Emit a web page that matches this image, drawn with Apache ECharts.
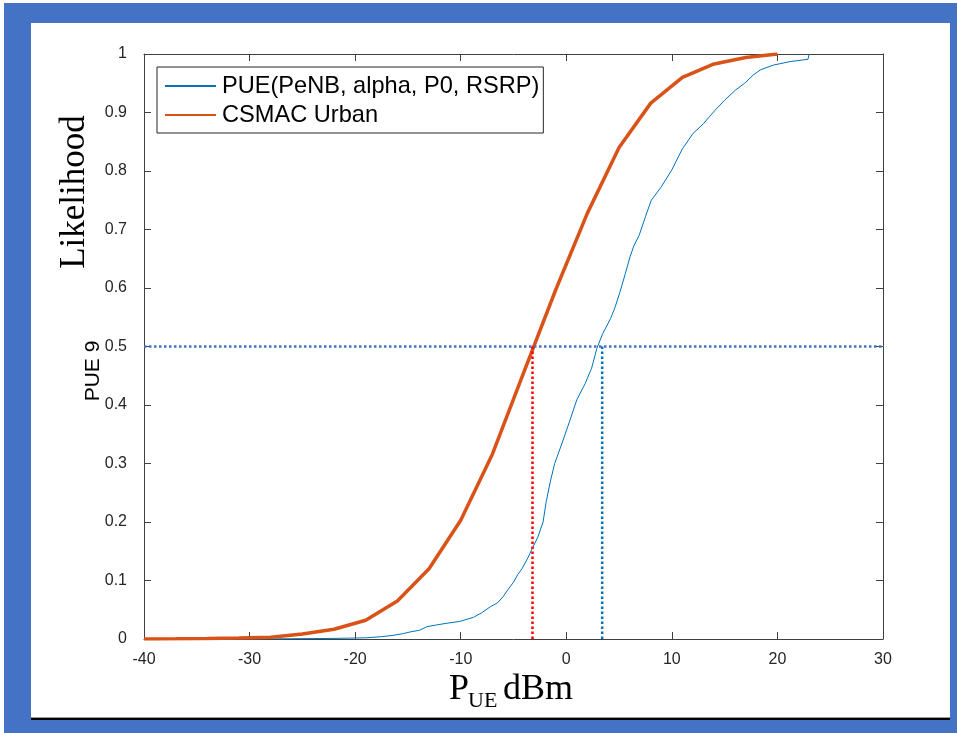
<!DOCTYPE html>
<html>
<head>
<meta charset="utf-8">
<script src="https://cdn.jsdelivr.net/npm/echarts@6/dist/echarts.min.js"></script>
<style>
  html, body { margin: 0; padding: 0; background: #ffffff; }
  #frame { position: absolute; left: 4px; top: 3px; width: 953px; height: 730px; background: #4472C4; }
  #paper { position: absolute; left: 31px; top: 23px; width: 919px; height: 694px; background: #ffffff; }
  #rule1 { position: absolute; left: 31px; top: 717px; width: 919px; height: 1px; background: #9a9a9a; }
  #rule2 { position: absolute; left: 31px; top: 718px; width: 919px; height: 2px; background: #000000; }
  #chart { position: absolute; left: 0; top: 0; width: 957px; height: 733px; }
</style>
</head>
<body>
<div id="frame"></div>
<div id="paper"></div>
<div id="rule1"></div>
<div id="rule2"></div>
<div id="chart"></div>
<script>
// ---- data ----
const xTicks = [-40, -30, -20, -10, 0, 10, 20, 30];
const yTicks = [0, 0.1, 0.2, 0.3, 0.4, 0.5, 0.6, 0.7, 0.8, 0.9, 1];

const csmacX = [-40, -37, -34, -31, -28, -25, -22, -19, -16, -13, -10, -7, -4, -1, 2, 5, 8, 11, 14, 17, 20];
const csmacY = [0, 0.0003, 0.0008, 0.0015, 0.003, 0.0085, 0.0166, 0.032, 0.065, 0.12, 0.203, 0.316, 0.457, 0.597, 0.728, 0.84, 0.916, 0.96, 0.983, 0.994, 1.0];

const pueX = [-40, -30, -26, -22, -19, -17.5, -16.5, -15.5, -14.8, -13.9, -13.2, -12.3, -11.3, -10.1, -8.8, -8, -7.2, -6.5, -6, -5.5, -5, -4.6, -4.2, -3.6, -3.3, -2.7, -2.2, -1.9, -1.5, -1.1, -0.4, 0.35, 1, 1.8, 2.4, 2.9, 3.45, 4.2, 4.6, 5.1, 5.6, 6.05, 6.4, 6.9, 7.5, 8.05, 9, 10, 11, 12, 13, 14.1, 15, 16, 16.9, 17.7, 18.4, 19.6, 21.2, 22.9, 23];
const pueY = [0, 0, 0.0005, 0.001, 0.002, 0.004, 0.006, 0.009, 0.012, 0.015, 0.021, 0.024, 0.027, 0.030, 0.037, 0.045, 0.055, 0.062, 0.072, 0.085, 0.097, 0.11, 0.12, 0.14, 0.152, 0.174, 0.2, 0.235, 0.27, 0.3, 0.335, 0.374, 0.409, 0.437, 0.463, 0.497, 0.522, 0.548, 0.566, 0.594, 0.625, 0.654, 0.672, 0.69, 0.722, 0.75, 0.773, 0.802, 0.838, 0.864, 0.881, 0.904, 0.921, 0.938, 0.95, 0.964, 0.973, 0.981, 0.987, 0.991, 1.0];

const halfLevel = 0.5;
const csmacAtHalf = -3.2;
const pueAtHalf = 3.4;
const xRange = [-40, 30];

// ---- build ----
const zip = (xs, ys) => xs.map((x, i) => [x, ys[i]]);
const fmtY = v => String(parseFloat(v.toFixed(1)));
const sans = 'Liberation Sans, Arial, Helvetica, sans-serif';
const serif = 'Liberation Serif, Times New Roman, serif';
const axisColor = '#404040';

const chart = echarts.init(document.getElementById('chart'), null, { renderer: 'canvas' });

const xBase = {
  type: 'value', min: xTicks[0], max: xTicks[xTicks.length - 1], interval: 10,
  axisLine: { show: true, onZero: false, lineStyle: { color: axisColor, width: 1 } },
  axisTick: { show: true, inside: true, length: 7, lineStyle: { color: axisColor } },
  splitLine: { show: false }
};
const yBase = {
  type: 'value', min: yTicks[0], max: yTicks[yTicks.length - 1], interval: 0.1,
  axisLine: { show: true, onZero: false, lineStyle: { color: axisColor, width: 1 } },
  axisTick: { show: true, inside: true, length: 7, lineStyle: { color: axisColor } },
  splitLine: { show: false }
};

const option = {
  backgroundColor: 'transparent',
  animation: false,
  grid: { left: 144, top: 54, right: 74, bottom: 94, containLabel: false },
  xAxis: [
    Object.assign({}, xBase, { position: 'bottom',
      axisLabel: { show: true, margin: 13, fontFamily: sans, fontSize: 16, color: '#262626' } }),
    Object.assign({}, xBase, { position: 'top', axisLabel: { show: false } })
  ],
  yAxis: [
    Object.assign({}, yBase, { position: 'left',
      axisLabel: { show: true, margin: 17, fontFamily: sans, fontSize: 16, color: '#262626', formatter: fmtY } }),
    Object.assign({}, yBase, { position: 'right', axisLabel: { show: false } })
  ],
  legend: {
    data: ['PUE(PeNB, alpha, P0, RSRP)', 'CSMAC Urban'],
    orient: 'vertical',
    left: 157, top: 67,
    padding: [7, 4, 6, 7],
    itemGap: 5,
    itemWidth: 51, itemHeight: 14,
    borderColor: '#262626', borderWidth: 1,
    backgroundColor: '#ffffff',
    itemStyle: { opacity: 0 },
    textStyle: { fontFamily: sans, fontSize: 23.6, color: '#000', lineHeight: 24, padding: [0, 0, 0, 1] }
  },
  series: [
    {
      name: 'PUE(PeNB, alpha, P0, RSRP)', type: 'line', data: zip(pueX, pueY),
      showSymbol: false, symbol: 'none',
      lineStyle: { color: '#0072BD', width: 1 }, itemStyle: { color: '#0072BD' }, z: 3
    },
    {
      name: 'CSMAC Urban', type: 'line', data: zip(csmacX, csmacY),
      showSymbol: false, symbol: 'none',
      lineStyle: { color: '#D95319', width: 3.5 }, itemStyle: { color: '#D95319' }, z: 4
    },
    {
      name: 'half', type: 'line', data: [[xRange[0], halfLevel], [xRange[1], halfLevel]],
      showSymbol: false, symbol: 'none',
      lineStyle: { color: '#4472C4', width: 2.5, type: [2.5, 2.5] }, z: 5
    },
    {
      name: 'csmacHalf', type: 'line', data: [[csmacAtHalf, 0], [csmacAtHalf, halfLevel]],
      showSymbol: false, symbol: 'none',
      lineStyle: { color: '#FF0000', width: 2.5, type: [2.5, 2.5] }, z: 5
    },
    {
      name: 'pueHalf', type: 'line', data: [[pueAtHalf, 0], [pueAtHalf, halfLevel]],
      showSymbol: false, symbol: 'none',
      lineStyle: { color: '#0072BD', width: 2.5, type: [2.5, 2.5] }, z: 5
    }
  ],
  graphic: [
    { type: 'text', x: 75, y: 192, rotation: Math.PI / 2,
      style: { text: 'Likelihood', font: '35px ' + serif, fill: '#000', align: 'center', verticalAlign: 'middle' } },
    { type: 'text', x: 93, y: 371, rotation: Math.PI / 2,
      style: { text: 'PUE 9', font: '21px ' + sans, fill: '#000', align: 'center', verticalAlign: 'middle' } },
    { type: 'text', x: 449, y: 690,
      style: { text: 'P', font: '36px ' + serif, fill: '#000', align: 'left', verticalAlign: 'middle' } },
    { type: 'text', x: 468, y: 701,
      style: { text: 'UE', font: '22px ' + serif, fill: '#000', align: 'left', verticalAlign: 'middle' } },
    { type: 'text', x: 503, y: 690,
      style: { text: 'dBm', font: '36px ' + serif, fill: '#000', align: 'left', verticalAlign: 'middle' } }
  ]
};
chart.setOption(option);
</script>
</body>
</html>
